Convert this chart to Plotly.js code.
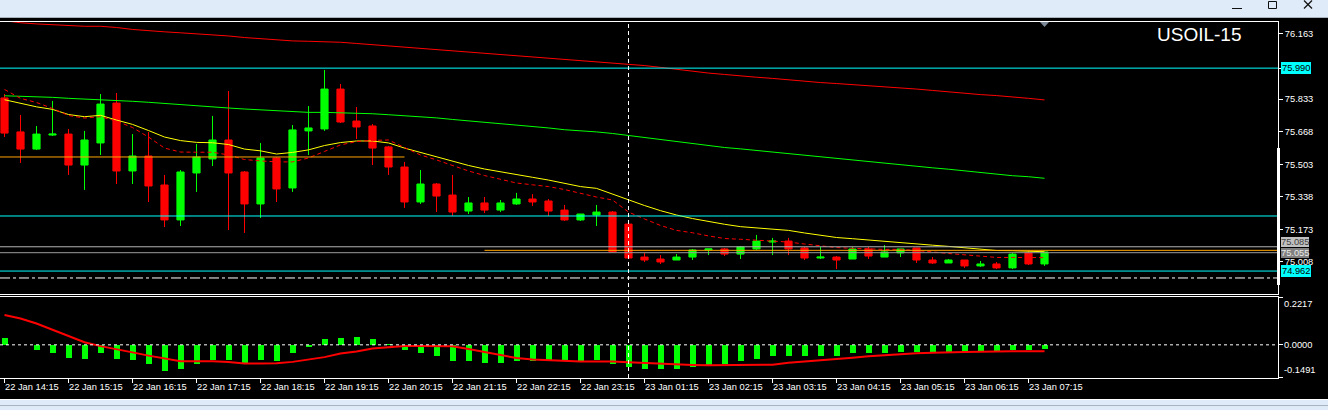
<!DOCTYPE html>
<html><head><meta charset="utf-8">
<script src="https://cdn.plot.ly/plotly-3.0.1.min.js"></script>
<style>html,body{margin:0;padding:0;background:#000;overflow:hidden}#chart{width:1328px;height:410px}</style>
</head><body><div id="chart"></div>
<script>
// ---------- DATA ----------
const symbolName = 'USOIL-15';
const opens  = [75.839,75.667,75.580,75.651,75.656,75.499,75.611,75.813,75.469,75.545,75.398,75.221,75.459,75.530,75.626,75.464,75.302,75.535,75.383,75.672,75.682,75.884,75.722,75.697,75.591,75.489,75.312,75.403,75.347,75.266,75.307,75.271,75.302,75.327,75.317,75.271,75.221,75.246,75.261,75.200,75.033,75.023,75.018,75.033,75.069,75.074,75.048,75.074,75.109,75.114,75.079,75.028,75.033,75.023,75.074,75.033,75.054,75.079,75.018,75.003,75.018,74.988,74.998,74.978,75.054,74.998];
const highs  = [75.859,75.753,75.697,75.824,75.682,75.672,75.859,75.864,75.656,75.667,75.449,75.474,75.606,75.748,75.874,75.469,75.611,75.540,75.702,75.798,75.981,75.910,75.793,75.707,75.596,75.515,75.474,75.408,75.449,75.337,75.337,75.322,75.358,75.352,75.327,75.297,75.251,75.297,75.266,75.205,75.054,75.043,75.048,75.074,75.074,75.079,75.089,75.145,75.130,75.130,75.084,75.084,75.038,75.084,75.084,75.094,75.074,75.079,75.033,75.023,75.018,75.013,75.008,75.054,75.064,75.059];
const lows   = [75.641,75.510,75.575,75.646,75.449,75.373,75.550,75.403,75.403,75.312,75.185,75.190,75.363,75.494,75.170,75.155,75.231,75.312,75.363,75.550,75.672,75.712,75.631,75.499,75.449,75.282,75.302,75.261,75.241,75.251,75.256,75.261,75.297,75.292,75.241,75.216,75.216,75.190,75.054,75.023,75.008,74.998,75.018,75.018,75.043,75.038,75.023,75.069,75.043,75.043,75.018,75.023,74.972,75.023,75.023,75.033,75.033,75.003,74.998,75.003,74.978,74.983,74.972,74.972,74.993,74.988];
const closes = [75.661,75.580,75.656,75.656,75.499,75.626,75.808,75.469,75.545,75.393,75.221,75.464,75.540,75.626,75.459,75.302,75.535,75.378,75.677,75.687,75.884,75.717,75.692,75.585,75.489,75.312,75.403,75.342,75.261,75.307,75.271,75.307,75.327,75.312,75.266,75.221,75.251,75.261,75.059,75.028,75.018,75.008,75.033,75.069,75.074,75.048,75.084,75.114,75.114,75.074,75.028,75.033,75.018,75.074,75.038,75.059,75.074,75.018,75.003,75.018,74.988,74.998,74.978,75.048,74.998,75.059];

const maSlowRed = [76.230,76.220,76.214,76.209,76.205,76.202,76.202,76.196,76.186,76.179,76.174,76.169,76.164,76.159,76.153,76.145,76.139,76.134,76.128,76.126,76.125,76.121,76.115,76.109,76.103,76.097,76.091,76.084,76.078,76.072,76.066,76.060,76.054,76.048,76.042,76.036,76.030,76.024,76.018,76.011,76.003,75.994,75.984,75.973,75.965,75.958,75.950,75.944,75.938,75.930,75.923,75.917,75.912,75.907,75.900,75.894,75.889,75.884,75.877,75.869,75.862,75.856,75.851,75.845,75.837,75.829];
const maMidGreen = [75.850,75.847,75.847,75.842,75.837,75.834,75.831,75.827,75.822,75.817,75.811,75.803,75.798,75.793,75.788,75.783,75.778,75.773,75.768,75.766,75.766,75.764,75.763,75.759,75.754,75.749,75.745,75.738,75.730,75.723,75.715,75.710,75.703,75.697,75.687,75.678,75.673,75.667,75.659,75.649,75.639,75.628,75.618,75.607,75.598,75.588,75.581,75.573,75.563,75.556,75.547,75.538,75.531,75.522,75.516,75.508,75.500,75.493,75.485,75.478,75.469,75.461,75.452,75.445,75.440,75.432];
const maFastYellow = [75.830,75.812,75.794,75.781,75.755,75.744,75.751,75.727,75.705,75.674,75.641,75.623,75.614,75.612,75.603,75.580,75.571,75.555,75.563,75.576,75.598,75.613,75.621,75.621,75.611,75.585,75.563,75.542,75.520,75.497,75.479,75.466,75.451,75.437,75.423,75.406,75.390,75.381,75.352,75.322,75.294,75.268,75.246,75.228,75.213,75.199,75.187,75.181,75.176,75.168,75.155,75.143,75.132,75.126,75.119,75.111,75.105,75.099,75.093,75.087,75.079,75.071,75.066,75.065,75.062,75.060];
const maFastRedDash = [75.882,75.837,75.816,75.786,75.750,75.737,75.744,75.722,75.689,75.641,75.585,75.565,75.564,75.564,75.550,75.527,75.520,75.515,75.515,75.535,75.568,75.601,75.618,75.624,75.626,75.588,75.550,75.525,75.497,75.469,75.446,75.426,75.408,75.399,75.390,75.375,75.355,75.337,75.322,75.261,75.226,75.193,75.168,75.156,75.140,75.127,75.123,75.119,75.116,75.109,75.099,75.090,75.081,75.077,75.074,75.072,75.072,75.067,75.059,75.051,75.044,75.037,75.031,75.031,75.032,75.030];

const macdHist = [0.034,-0.003,-0.022,-0.036,-0.059,-0.064,-0.040,-0.064,-0.068,-0.087,-0.119,-0.110,-0.091,-0.068,-0.068,-0.082,-0.068,-0.073,-0.040,-0.012,0.025,0.034,0.038,0.025,0.006,-0.026,-0.040,-0.054,-0.073,-0.077,-0.082,-0.082,-0.077,-0.073,-0.068,-0.068,-0.073,-0.068,-0.087,-0.101,-0.110,-0.110,-0.110,-0.101,-0.093,-0.087,-0.077,-0.064,-0.054,-0.050,-0.050,-0.050,-0.050,-0.040,-0.040,-0.036,-0.031,-0.031,-0.031,-0.031,-0.031,-0.031,-0.031,-0.026,-0.022,-0.017];
const macdSignal = [0.138,0.122,0.099,0.069,0.040,0.012,-0.006,-0.019,-0.035,-0.050,-0.064,-0.076,-0.076,-0.076,-0.080,-0.087,-0.087,-0.085,-0.079,-0.068,-0.057,-0.040,-0.031,-0.017,-0.010,-0.005,-0.005,-0.005,-0.007,-0.019,-0.033,-0.050,-0.061,-0.068,-0.071,-0.076,-0.077,-0.077,-0.077,-0.081,-0.084,-0.090,-0.091,-0.093,-0.095,-0.095,-0.095,-0.095,-0.092,-0.083,-0.078,-0.070,-0.067,-0.060,-0.053,-0.048,-0.044,-0.039,-0.037,-0.034,-0.033,-0.032,-0.030,-0.030,-0.030,-0.030];

const timeTickIndex  = [0,4,8,12,16,20,24,28,32,36,40,44,48,52,56,60,64];
const timeTickLabels = ['22 Jan 14:15','22 Jan 15:15','22 Jan 16:15','22 Jan 17:15','22 Jan 18:15','22 Jan 19:15','22 Jan 20:15','22 Jan 21:15','22 Jan 22:15','22 Jan 23:15','23 Jan 01:15','23 Jan 02:15','23 Jan 03:15','23 Jan 04:15','23 Jan 05:15','23 Jan 06:15','23 Jan 07:15'];
const priceTickValues = [76.163,75.990,75.833,75.668,75.503,75.338,75.173,75.008];
const priceTickLabels = ['76.163','','75.833','75.668','75.503','75.338','75.173','75.008'];
const cyanLevels = [75.990,75.241,74.962];
const cyanLabelled = [75.990,74.962];
const askLevel = 75.085, bidLevel = 75.055;
const orangeLevels = [75.540,75.067];
const orangeFrom = [null,30];
const orangeTo = [25,null];
const pendingLevel = 74.927;
const cursorIndex = 39;
const macdScaleValues = [0.2217,0,-0.1491];
const macdScaleLabels = ['0.2217','0.0000','-0.1491'];

// ---------- LAYOUT GEOMETRY ----------
const FW=1328, FH=410, W=1278, T=21, B=378, H=B-T;
const X = px => px/W;
const Y = py => (B-py)/H;
const xRange = [-0.28125, 79.59375];
const yMainRange = [74.8458, 76.2288];
const yMacdRange = [-0.1537, 0.2240];
const FONT = 'Liberation Sans, Arial, sans-serif';
const idx = opens.map((_, i) => i);

const traces = [
  {type:'candlestick', x:idx, open:opens, high:highs, low:lows, close:closes, xaxis:'x', yaxis:'y',
   increasing:{line:{color:'#00ff00',width:1}, fillcolor:'#00ff00'},
   decreasing:{line:{color:'#ff0000',width:1}, fillcolor:'#ff0000'},
   whiskerwidth:0, hoverinfo:'skip', showlegend:false},
  {type:'scatter', mode:'lines', x:idx, y:maSlowRed, line:{color:'#ff0000',width:1}, xaxis:'x', yaxis:'y', hoverinfo:'skip', showlegend:false},
  {type:'scatter', mode:'lines', x:idx, y:maMidGreen, line:{color:'#00ff00',width:1}, xaxis:'x', yaxis:'y', hoverinfo:'skip', showlegend:false},
  {type:'scatter', mode:'lines', x:idx, y:maFastYellow, line:{color:'#ffff00',width:1}, xaxis:'x', yaxis:'y', hoverinfo:'skip', showlegend:false},
  {type:'scatter', mode:'lines', x:idx, y:maFastRedDash, line:{color:'#ff0000',width:1,dash:'4px,3px'}, xaxis:'x', yaxis:'y', hoverinfo:'skip', showlegend:false},
  {type:'bar', x:idx, y:macdHist, width:0.375, marker:{color:'#00ff00',line:{width:0}}, xaxis:'x', yaxis:'y2', hoverinfo:'skip', showlegend:false},
  {type:'scatter', mode:'lines', x:idx, y:macdSignal, line:{color:'#ff0000',width:2}, xaxis:'x', yaxis:'y2', hoverinfo:'skip', showlegend:false}
];

const shapes = [];
const pline = (x0,y0,x1,y1,color,width,dash) => shapes.push({type:'line', xref:'paper', yref:'paper', x0:X(x0), y0:Y(y0), x1:X(x1), y1:Y(y1), line:{color, width, dash:dash||'solid'}, layer:'above'});
const prect = (x0,y0,x1,y1,fill,lineColor,lw) => shapes.push({type:'rect', xref:'paper', yref:'paper', x0:X(x0), y0:Y(y0), x1:X(x1), y1:Y(y1), fillcolor:fill, line:{color:lineColor||'rgba(0,0,0,0)', width:lw||0}, layer:'above'});

// horizontal objects
cyanLevels.forEach(v => shapes.push({type:'line', xref:'paper', yref:'y', x0:0, x1:1, y0:v, y1:v, line:{color:'#00ffff',width:1}, layer:'above'}));
shapes.push({type:'line', xref:'paper', yref:'y', x0:0, x1:1, y0:askLevel, y1:askLevel, line:{color:'#b4b4b4',width:1}, layer:'above'});
shapes.push({type:'line', xref:'paper', yref:'y', x0:0, x1:1, y0:bidLevel, y1:bidLevel, line:{color:'#9a9a9a',width:1}, layer:'above'});
orangeLevels.forEach((v,i) => shapes.push({type:'line', xref:'x', yref:'y', x0:orangeFrom[i]===null?xRange[0]:orangeFrom[i], x1:orangeTo[i]===null?xRange[1]:orangeTo[i], y0:v, y1:v, line:{color:'#ffa500',width:1}, layer:'above'}));
shapes.push({type:'line', xref:'paper', yref:'y', x0:0, x1:1, y0:pendingLevel, y1:pendingLevel, line:{color:'#ffffff',width:1,dash:'10px,3px,3px,3px'}, layer:'above'});
shapes.push({type:'line', xref:'paper', yref:'y2', x0:0, x1:1, y0:0, y1:0, line:{color:'#ffffff',width:1,dash:'3px,3px'}, layer:'above'});
shapes.push({type:'line', xref:'x', yref:'paper', x0:cursorIndex, x1:cursorIndex, y0:0, y1:1, line:{color:'#ffffff',width:1,dash:'4px,3px'}, layer:'above'});

// window chrome & frames
prect(0,0,FW,17,'#dfebf9');
pline(0,17.5,FW,17.5,'#a9b3bd',1);
prect(0,399,FW,FH,'#dfebf9');
pline(0,399.5,FW,399.5,'#ffffff',1);
pline(0,405.5,FW,405.5,'#a9b3bd',1);
pline(0,21.5,1278.5,21.5,'#ffffff',1);
pline(1278.5,21,1278.5,295,'#ffffff',1);
pline(0,294.5,1278.5,294.5,'#ffffff',1);
pline(0,296.5,1278.5,296.5,'#ffffff',1);
pline(1278.5,296,1278.5,379,'#ffffff',1);
pline(0,378.5,1278.5,378.5,'#ffffff',1);
prect(1277,148,1280,285,'#ffffff');
shapes.push({type:'path', xref:'paper', yref:'paper', path:`M ${X(1040)} ${Y(22)} L ${X(1049)} ${Y(22)} L ${X(1044.5)} ${Y(27)} Z`, fillcolor:'#7d8996', line:{width:0}, layer:'above'});
pline(1232,8.5,1242,8.5,'#111111',1);
prect(1268.5,1.5,1276.5,8.5,'rgba(0,0,0,0)','#111111',1);
pline(1304,0.5,1312,8.5,'#111111',1.2);
pline(1312,0.5,1304,8.5,'#111111',1.2);

const annotations = [];
annotations.push({text:symbolName, xref:'paper', yref:'paper', x:X(1154.5), y:Y(35), xanchor:'left', yanchor:'middle', showarrow:false, font:{family:FONT,size:19,color:'#ffffff'}});
timeTickIndex.forEach((t,i) => annotations.push({text:timeTickLabels[i], xref:'x', yref:'paper', x:t, y:Y(387.5), xanchor:'left', yanchor:'middle', xshift:-2, showarrow:false, font:{family:FONT,size:9.3,color:'#ffffff'}}));
macdScaleValues.forEach((v,i) => annotations.push({text:macdScaleLabels[i], xref:'paper', yref:'y2', x:X(1282), y:v, xanchor:'left', yanchor: i===0?'top':(i===2?'bottom':'middle'), showarrow:false, font:{family:FONT,size:9.3,color:'#ffffff'}}));
cyanLabelled.forEach(v => annotations.push({text:v.toFixed(3), xref:'paper', yref:'y', x:X(1280.5), y:v, xanchor:'left', yanchor:'middle', showarrow:false, bgcolor:'#00ffff', borderpad:1, borderwidth:0, font:{family:FONT,size:9.3,color:'#000000'}}));
// ask box sits just above the bid box (stacked, not overlapping)
annotations.push({text:askLevel.toFixed(3), xref:'paper', yref:'y', x:X(1280.5), y:askLevel, xanchor:'left', yanchor:'bottom', yshift:0, showarrow:false, bgcolor:'#c0c0c0', borderpad:0, borderwidth:0, font:{family:FONT,size:9.3,color:'#404040'}});
annotations.push({text:bidLevel.toFixed(3), xref:'paper', yref:'y', x:X(1280.5), y:bidLevel, xanchor:'left', yanchor:'middle', showarrow:false, bgcolor:'#808080', borderpad:0, borderwidth:0, font:{family:FONT,size:9.3,color:'#e8e8e8'}});

const layout = {
  width:FW, height:FH, margin:{l:0,r:FW-W,t:T,b:FH-B},
  paper_bgcolor:'#000000', plot_bgcolor:'#000000', showlegend:false, hovermode:false,
  boxgap:0.36, bargap:0,
  font:{family:FONT,size:9.3,color:'#ffffff'},
  xaxis:{range:xRange, anchor:'y2', rangeslider:{visible:false}, showgrid:false, zeroline:false, showline:false,
         tickmode:'array', tickvals:timeTickIndex, ticks:'outside', ticklen:4, tickcolor:'#ffffff', showticklabels:false, automargin:false, fixedrange:true},
  yaxis:{domain:[Y(294),1], range:yMainRange, side:'right', anchor:'x', showgrid:false, zeroline:false, showline:false,
         tickmode:'array', tickvals:priceTickValues, ticktext:priceTickLabels, ticks:'outside', ticklen:4, tickcolor:'#ffffff',
         tickfont:{family:FONT,size:9.3,color:'#ffffff'}, automargin:false, fixedrange:true},
  yaxis2:{domain:[0,Y(296.5)], range:yMacdRange, side:'right', anchor:'x', showgrid:false, zeroline:false, showline:false,
          tickmode:'array', tickvals:macdScaleValues, ticks:'outside', ticklen:4, tickcolor:'#ffffff', showticklabels:false, automargin:false, fixedrange:true},
  shapes, annotations
};

Plotly.newPlot('chart', traces, layout, {staticPlot:true, displayModeBar:false});
</script>
</body></html>
